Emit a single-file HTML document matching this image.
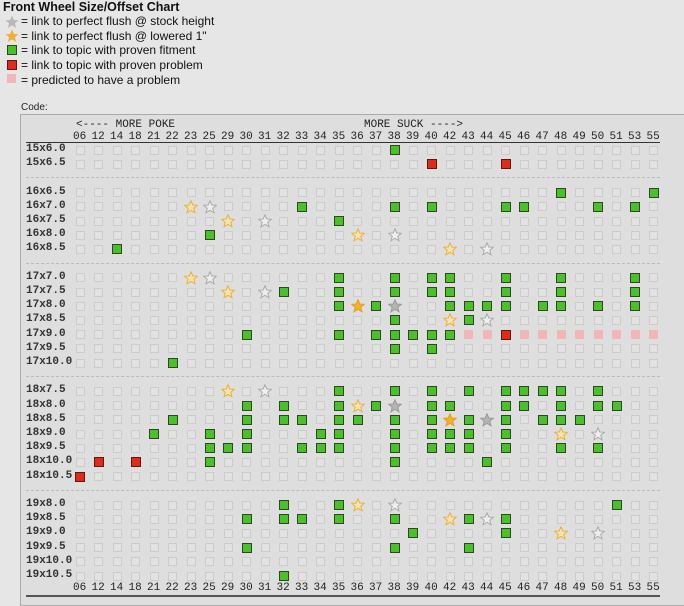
<!DOCTYPE html>
<html><head><meta charset="utf-8"><style>
body{margin:0;width:684px;height:599px;background:#e6e6e6;overflow:hidden;font-family:"Liberation Sans",sans-serif;position:relative}
.a{position:absolute}
.t{font-size:12px;color:#111;white-space:nowrap}
.m{font-family:"Liberation Mono",monospace;font-size:11px;color:#222;white-space:nowrap}
.e{position:absolute;width:7px;height:7px;border:1px solid #ccc;background:#e2e2e2}
.g{position:absolute;width:8px;height:8px;border:1px solid #2a4a1e;background:#4cc02c}
.r{position:absolute;width:8px;height:8px;border:1px solid #5a1a12;background:#e02a1c}
.p{position:absolute;width:9px;height:9px;background:#f2b6b6}
</style></head><body>
<div class="a t" style="left:3px;top:0px;font-weight:bold;font-size:12.5px">Front Wheel Size/Offset Chart</div>
<svg class="a" style="left:5px;top:15px" width="14" height="14"><polygon points="7,0.5 8.9,5 13.5,5.3 9.9,8.3 11.1,13 7,10.4 2.9,13 4.1,8.3 0.5,5.3 5.1,5" fill="#b8b8b8"/></svg>
<div class="a t" style="left:21px;top:14px">= link to perfect flush @ stock height</div>
<svg class="a" style="left:5px;top:29px" width="14" height="14"><polygon points="7,0.5 8.9,5 13.5,5.3 9.9,8.3 11.1,13 7,10.4 2.9,13 4.1,8.3 0.5,5.3 5.1,5" fill="#f0b030"/></svg>
<div class="a t" style="left:21px;top:29px">= link to perfect flush @ lowered 1"</div>
<div class="g" style="left:7px;top:45px"></div>
<div class="a t" style="left:21px;top:43px">= link to topic with proven fitment</div>
<div class="r" style="left:7px;top:60px"></div>
<div class="a t" style="left:21px;top:58px">= link to topic with proven problem</div>
<div class="p" style="left:7px;top:74px"></div>
<div class="a t" style="left:21px;top:73px">= predicted to have a problem</div>
<div class="a" style="left:21px;top:102px;font-size:10px;color:#222">Code:</div>
<div class="a" style="left:20px;top:114px;width:670px;height:490px;border:1px solid #aaa;background:#dedede"></div>
<div class="a m" style="left:76px;top:119px">&lt;---- MORE POKE</div>
<div class="a m" style="left:364px;top:119px">MORE SUCK ----&gt;</div>
<div id="c"></div>
<script>
var cols=["06","12","14","18","21","22","23","25","29","30","31","32","33","34","35","36","37","38","39","40","42","43","44","45","46","47","48","49","50","51","53","55"];
function X(i){return 80+i*18.5;}
var rows=[
["15x6.0",0,{38:"g"}],["15x6.5",1,{40:"r",45:"r"}],
["16x6.5",3,{48:"g",55:"g"}],["16x7.0",4,{23:"o",25:"s",33:"g",38:"g",40:"g",45:"g",46:"g",50:"g",53:"g"}],
["16x7.5",5,{29:"o",31:"s",35:"g"}],["16x8.0",6,{25:"g",36:"o",38:"s"}],["16x8.5",7,{14:"g",42:"o",44:"s"}],
["17x7.0",9,{23:"o",25:"s",35:"g",38:"g",40:"g",42:"g",45:"g",48:"g",53:"g"}],
["17x7.5",10,{29:"o",31:"s",32:"g",35:"g",38:"g",40:"g",42:"g",45:"g",48:"g",53:"g"}],
["17x8.0",11,{35:"g",36:"O",37:"g",38:"S",42:"g",43:"g",44:"g",45:"g",47:"g",48:"g",50:"g",53:"g"}],
["17x8.5",12,{38:"g",42:"o",43:"g",44:"s"}],
["17x9.0",13,{30:"g",35:"g",37:"g",38:"g",39:"g",40:"g",42:"g",43:"p",44:"p",45:"r",46:"p",47:"p",48:"p",49:"p",50:"p",51:"p",53:"p",55:"p"}],
["17x9.5",14,{38:"g",40:"g"}],["17x10.0",15,{22:"g"}],
["18x7.5",17,{29:"o",31:"s",35:"g",38:"g",40:"g",43:"g",45:"g",46:"g",47:"g",48:"g",50:"g"}],
["18x8.0",18,{30:"g",32:"g",35:"g",36:"o",37:"g",38:"S",40:"g",42:"g",45:"g",46:"g",48:"g",50:"g",51:"g"}],
["18x8.5",19,{22:"g",30:"g",32:"g",33:"g",35:"g",36:"g",38:"g",40:"g",42:"O",43:"g",44:"S",45:"g",47:"g",48:"g",49:"g"}],
["18x9.0",20,{21:"g",25:"g",30:"g",34:"g",35:"g",38:"g",40:"g",42:"g",43:"g",45:"g",48:"o",50:"s"}],
["18x9.5",21,{25:"g",29:"g",30:"g",33:"g",34:"g",35:"g",38:"g",40:"g",42:"g",43:"g",45:"g",48:"g",50:"g"}],
["18x10.0",22,{12:"r",18:"r",25:"g",38:"g",44:"g"}],["18x10.5",23,{"06":"r"}],
["19x8.0",25,{32:"g",35:"g",36:"o",38:"s",51:"g"}],
["19x8.5",26,{30:"g",32:"g",33:"g",35:"g",38:"g",42:"o",43:"g",44:"s",45:"g"}],
["19x9.0",27,{39:"g",45:"g",48:"o",50:"s"}],["19x9.5",28,{30:"g",38:"g",43:"g"}],
["19x10.0",29,{}],["19x10.5",30,{32:"g"}]];
var h="";
function Y(l){return 150+l*14.2;}
function star(x,y,c,f){return '<svg class="a" style="left:'+(x-7)+'px;top:'+(y-7)+'px" width="14" height="14"><polygon points="7,0.8 8.8,5 13.3,5.3 9.8,8.3 11,12.8 7,10.3 3,12.8 4.2,8.3 0.7,5.3 5.2,5" fill="'+f+'" stroke="'+c+'" stroke-width="1"/></svg>';}
cols.forEach(function(c,i){
 h+='<div class="a m" style="left:'+(X(i)-7)+'px;top:131px">'+c+'</div>';
 h+='<div class="a m" style="left:'+(X(i)-7)+'px;top:582px">'+c+'</div>';
});
h+='<div class="a" style="left:26px;top:142px;width:634px;border-top:1px solid #333"></div>';
h+='<div class="a" style="left:26px;top:595px;width:634px;border-top:2px solid #555"></div>';
[2,8,16,24].forEach(function(l){h+='<div class="a" style="left:26px;top:'+(Y(l)-1)+'px;width:634px;border-top:1px dashed #bbb"></div>';});
rows.forEach(function(r){
 var y=Y(r[1]);
 h+='<div class="a m" style="left:26px;top:'+(y-7)+'px;font-weight:bold;color:#333">'+r[0]+'</div>';
 cols.forEach(function(c,i){
  var x=X(i),t=r[2][c];
  if(!t)h+='<div class="e" style="left:'+(x-4.5)+'px;top:'+(y-4.5)+'px"></div>';
  else if(t=="g"||t=="r")h+='<div class="'+t+'" style="left:'+(x-5)+'px;top:'+(y-5)+'px"></div>';
  else if(t=="p")h+='<div class="p" style="left:'+(x-4.5)+'px;top:'+(y-4.5)+'px"></div>';
  else if(t=="o")h+=star(x,y,"#e8b040","#f6e4b0");
  else if(t=="O")h+=star(x,y,"#e0a020","#f0b030");
  else if(t=="s")h+=star(x,y,"#aaa","#eee");
  else if(t=="S")h+=star(x,y,"#999","#b4b4b4");
 });
});
document.getElementById("c").innerHTML=h;
</script>
</body></html>
